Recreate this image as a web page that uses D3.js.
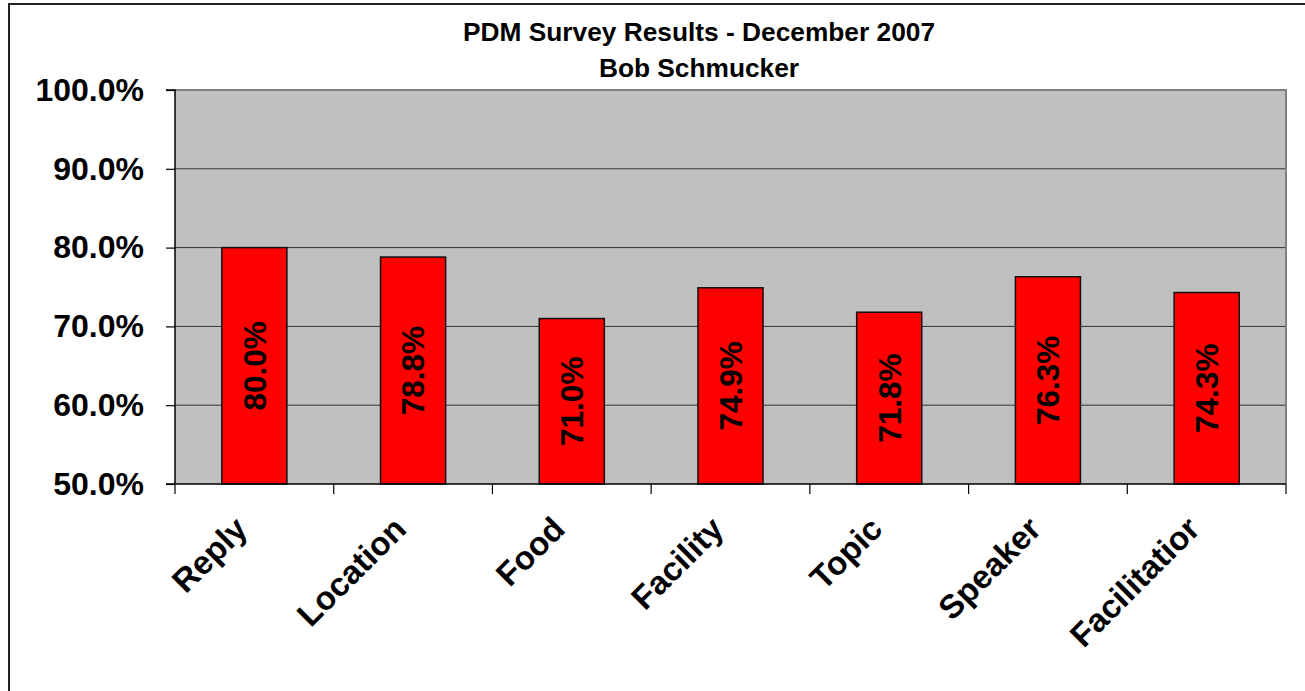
<!DOCTYPE html>
<html><head><meta charset="utf-8">
<script src="https://cdn.jsdelivr.net/npm/d3@7"></script>
<style>body{margin:0;background:#fff;} svg{display:block;}</style>
</head><body>
<script>
const categories = ["Reply","Location","Food","Facility","Topic","Speaker","Facilitatior"];
const values = [80.0, 78.8, 71.0, 74.9, 71.8, 76.3, 74.3];
const yTicks = [50, 60, 70, 80, 90, 100];
const titleLines = ["PDM Survey Results - December 2007", "Bob Schmucker"];

const W = 1305, H = 691;
const plot = {left: 175, right: 1286, top: 90, bottom: 484};
const font = "Arial, 'Liberation Sans', Helvetica, sans-serif";

const svg = d3.select("body").append("svg").attr("width", W).attr("height", H);

// outer chart border
svg.append("rect").attr("x", 9).attr("y", 4).attr("width", 1310).attr("height", 700)
  .attr("fill", "#fff").attr("stroke", "#222").attr("stroke-width", 2);

const x = d3.scaleBand().domain(categories).range([plot.left, plot.right])
  .paddingInner(0.59).paddingOuter(0.295);
const y = d3.scaleLinear().domain([50, 100]).range([plot.bottom, plot.top]);

// plot area
svg.append("rect").attr("x", plot.left).attr("y", plot.top)
  .attr("width", plot.right - plot.left).attr("height", plot.bottom - plot.top)
  .attr("fill", "#C0C0C0");

// gridlines
svg.append("g").selectAll("line").data(yTicks.filter(t => t > 50 && t < 100)).join("line")
  .attr("x1", plot.left).attr("x2", plot.right)
  .attr("y1", d => y(d)).attr("y2", d => y(d))
  .attr("stroke", "#333").attr("stroke-width", 1);

// plot border top/right (grey)
svg.append("path")
  .attr("d", `M${plot.left},${y(100)}H${plot.right}V${plot.bottom}`)
  .attr("fill", "none").attr("stroke", "#808080").attr("stroke-width", 2);

// bars
svg.append("g").selectAll("rect").data(categories).join("rect")
  .attr("x", d => x(d)).attr("width", x.bandwidth())
  .attr("y", (d, i) => y(values[i])).attr("height", (d, i) => y(50) - y(values[i]))
  .attr("fill", "#FF0000").attr("stroke", "#111").attr("stroke-width", 1.5);

// bar labels
svg.append("g").selectAll("text").data(categories).join("text")
  .attr("transform", (d, i) => {
    const cx = x(d) + x.bandwidth() / 2;
    const cy = (y(values[i]) + y(50)) / 2;
    return `translate(${cx},${cy}) rotate(-90)`;
  })
  .attr("text-anchor", "middle").attr("dy", "0.36em")
  .attr("font-family", font).attr("font-weight", "bold").attr("font-size", 31.5)
  .attr("fill", "#000")
  .text((d, i) => values[i].toFixed(1) + "%");

// y axis
const yAxis = d3.axisLeft(y).tickValues(yTicks).tickSize(9).tickPadding(22)
  .tickFormat(d => d3.format(".1f")(d) + "%");
const gy = svg.append("g").attr("transform", `translate(${plot.left},0)`).call(yAxis);
gy.select(".domain").attr("stroke", "#000").attr("stroke-width", 1.5).attr("d", `M-9,${plot.top}H0V${plot.bottom}`);
gy.selectAll(".tick line").attr("stroke", "#000").attr("stroke-width", 1.2);
gy.selectAll(".tick text").attr("font-family", font).attr("font-weight", "bold")
  .attr("font-size", 32).attr("fill", "#000");

// x axis
const edges = d3.range(categories.length + 1).map(i => plot.left + i * x.step());
svg.append("line").attr("x1", plot.left - 9).attr("x2", plot.right)
  .attr("y1", plot.bottom).attr("y2", plot.bottom).attr("stroke", "#000").attr("stroke-width", 1.5);
svg.append("g").selectAll("line").data(edges).join("line")
  .attr("x1", d => d).attr("x2", d => d)
  .attr("y1", plot.bottom).attr("y2", plot.bottom + 10)
  .attr("stroke", "#000").attr("stroke-width", 1.2);

svg.append("g").selectAll("text").data(categories).join("text")
  .attr("transform", d => `translate(${x(d) + x.bandwidth() / 2 - 5},${plot.bottom + 47}) rotate(-45)`)
  .attr("text-anchor", "end")
  .attr("font-family", font).attr("font-weight", "bold").attr("font-size", 33)
  .attr("fill", "#000").text(d => d);

// title
svg.append("g").selectAll("text").data(titleLines).join("text")
  .attr("x", 699).attr("y", (d, i) => 41 + i * 36)
  .attr("text-anchor", "middle")
  .attr("font-family", font).attr("font-weight", "bold").attr("font-size", 26.3)
  .attr("fill", "#000").text(d => d);
</script>
</body></html>
